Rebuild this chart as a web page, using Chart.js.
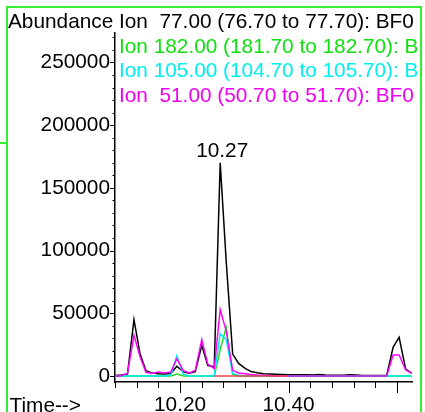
<!DOCTYPE html>
<html>
<head>
<meta charset="utf-8">
<script src="https://cdn.jsdelivr.net/npm/chart.js@4/dist/chart.umd.min.js"></script>
<style>
  html, body { margin: 0; padding: 0; background: #fff; }
  #wrap { position: relative; width: 425px; height: 412px; overflow: hidden;
          font-family: "Liberation Sans", Arial, sans-serif; font-size: 20.8px; line-height: 20px; }
  #chart { position: absolute; left: 0; top: 0; }
  .txt { position: absolute; white-space: pre; }
  #frame { position: absolute; left: 6px; top: 6px; width: 412px; height: 420px; border: 2px solid #33ee33; }
  #stub { position: absolute; left: 0; top: 142px; width: 7px; height: 2px; background: #33ee33; }
  #legend { position: absolute; left: 119px; top: 0; width: 301px; height: 110px; overflow: hidden; }
</style>
</head>
<body>
<div id="wrap">
  <canvas id="chart" width="425" height="412"></canvas>
  <div id="frame"></div>
  <div id="stub"></div>
  <div class="txt" style="left:8px; top:10.8px; color:#000;">Abundance</div>
  <div id="legend">
    <div class="txt" style="left:0; top:10.8px; color:#000;">Ion  77.00 (76.70 to 77.70): BF0</div>
    <div class="txt" style="left:0; top:35.5px; color:#10e010;">Ion 182.00 (181.70 to 182.70): BF0</div>
    <div class="txt" style="left:0; top:60.1px; color:#00eeee;">Ion 105.00 (104.70 to 105.70): BF0</div>
    <div class="txt" style="left:0; top:84.5px; color:#f000f0;">Ion  51.00 (50.70 to 51.70): BF0</div>
  </div>
  <div class="txt" style="left:9.5px; top:395.3px; color:#000;">Time--&gt;</div>
</div>
<script>
// retention times (min)
const times = [
  10.080, 10.092, 10.103, 10.115, 10.126, 10.137, 10.149, 10.160, 10.171, 10.183,
  10.194, 10.206, 10.217, 10.228, 10.240, 10.251, 10.263, 10.274, 10.285, 10.297,
  10.308, 10.320, 10.331, 10.342, 10.354, 10.365, 10.376, 10.388, 10.399, 10.411,
  10.422, 10.433, 10.445, 10.456, 10.468, 10.479, 10.490, 10.502, 10.513, 10.524,
  10.536, 10.547, 10.559, 10.570, 10.581, 10.593, 10.604, 10.616, 10.627
];

// abundance per ion
const ion77 = [
  300, 700, 1500, 45000, 18000, 4300, 2300, 1800, 1500, 2000,
  7800, 3400, 2100, 3400, 24500, 8500, 7200, 170000, 92000, 17500,
  10000, 6000, 3500, 2500, 1800, 1500, 1300, 1100, 1000, 1000,
  900, 900, 800, 1200, 700, 600, 500, 600, 1000, 800,
  400, 300, 300, 300, 500, 23000, 30800, 5500, 2200
];
const ion182 = [
  0, 0, 0, 0, 0, 0, 0, 0, 0, 0,
  1500, 0, 0, 0, 0, 0, 0, 21000, 38700, 1500,
  0, 0, 0, 0, 0, 0, 0, 0, 0, 0,
  0, 0, 0, 0, 0, 0, 0, 0, 0, 0,
  0, 0, 0, 0, 0, 0, 0, 0, 0
];
const ion105 = [
  0, 0, 0, 0, 0, 0, 0, 0, 0, 800,
  16000, 1500, 0, 0, 0, 0, 0, 33700, 29000, 2000,
  500, 0, 0, 0, 0, 0, 0, 0, 0, 0,
  0, 0, 0, 0, 0, 0, 0, 0, 0, 0,
  0, 0, 0, 0, 0, 0, 0, 0, 0
];
const ion51 = [
  0, 300, 2100, 32400, 15500, 3000, 2000, 3200, 2400, 3200,
  13800, 4300, 2400, 4500, 29000, 9500, 5800, 53000, 36000, 4500,
  2400, 1800, 1200, 800, 500, 300, 0, 0, 0, 0,
  0, 0, 0, 0, 0, 0, 0, 0, 0, 0,
  0, 0, 0, 0, 0, 16700, 16700, 4800, 2400
];
// other ions, only seen as flat baseline pieces
const ionRed = [
  null, null, null, null, null, null, null, null, null, null,
  null, null, null, null, null, null, 0, 0, 0, 0,
  0, 0, 0, 0, 0, 0, 0, 0, 0, null,
  null, null, null, null, null, null, null, null, null, null,
  null, null, null, null, null, null, null, null, null
];
const ionPurple = [
  0, 0, null, null, null, null, null, null, null, null,
  null, null, null, null, null, null, null, null, null, null,
  null, null, null, null, null, null, null, null, 0, 0,
  0, 0, 0, 0, 0, 0, 0, 0, 0, 0,
  0, 0, 0, 0, 0, null, null, null, null
];

const yTickValues = [0, 50000, 100000, 150000, 200000, 250000];
const yMinorTicks = [
  0, 10000, 20000, 30000, 40000, 50000, 60000, 70000, 80000, 90000,
  100000, 110000, 120000, 130000, 140000, 150000, 160000, 170000, 180000, 190000,
  200000, 210000, 220000, 230000, 240000, 250000, 260000, 270000
];
const xTickValues = [10.20, 10.40];
const xMajorMarks = [10.20, 10.40, 10.60];
const xMinorTicks = [10.08, 10.12, 10.16, 10.20, 10.24, 10.28, 10.32, 10.36, 10.40, 10.44, 10.48, 10.52, 10.56, 10.60];
const peakTime = 10.274;
const peakValue = 170000;
const peakText = '10.27';

const toPoints = (vals) => vals.map((v, i) => ({ x: times[i], y: v }));

const axisMarks = {
  id: 'axisMarks',
  afterDraw(chart) {
    const { ctx, chartArea, scales: { x, y } } = chart;
    ctx.save();
    ctx.strokeStyle = '#000';
    ctx.lineWidth = 1;
    yMinorTicks.forEach(v => {
      const py = Math.round(y.getPixelForValue(v)) + 0.5;
      const len = yTickValues.includes(v) ? 5 : 2.5;
      ctx.beginPath();
      ctx.moveTo(chartArea.left - len, py);
      ctx.lineTo(chartArea.left, py);
      ctx.stroke();
    });
    xMinorTicks.forEach(v => {
      const px = Math.round(x.getPixelForValue(v)) + 0.5;
      const len = xMajorMarks.some(m => Math.abs(m - v) < 1e-6) ? 11 : 6;
      ctx.beginPath();
      ctx.moveTo(px, chartArea.bottom);
      ctx.lineTo(px, chartArea.bottom + len);
      ctx.stroke();
    });
    // peak annotation
    ctx.fillStyle = '#000';
    ctx.font = '20.8px "Liberation Sans", Arial, sans-serif';
    ctx.textAlign = 'center';
    ctx.textBaseline = 'alphabetic';
    ctx.fillText(peakText, x.getPixelForValue(peakTime) + 2, y.getPixelForValue(peakValue) - 6);
    ctx.restore();
  }
};

const line = (label, vals, color, order) => ({
  label,
  data: toPoints(vals),
  borderColor: color,
  borderWidth: 1.5,
  pointRadius: 0,
  tension: 0,
  fill: false,
  spanGaps: false,
  order
});

new Chart(document.getElementById('chart'), {
  type: 'line',
  data: {
    datasets: [
      line('Ion 77.00', ion77, '#000000', 5),
      line('Ion 182.00', ion182, '#22dd22', 4),
      line('Ion 105.00', ion105, '#00eeee', 3),
      line('Ion 51.00', ion51, '#ff00ff', 2),
      line('red', ionRed, '#ee4444', 0),
      line('purple', ionPurple, '#a040d0', 1)
    ]
  },
  options: {
    responsive: false,
    animation: false,
    layout: { padding: { left: 0, right: 12.3, top: 33, bottom: 0 } },
    plugins: { legend: { display: false }, tooltip: { enabled: false } },
    scales: {
      x: {
        type: 'linear',
        min: 10.08,
        max: 10.629,
        afterFit: (scale) => { scale.height = 30; },
        afterBuildTicks: (scale) => { scale.ticks = xTickValues.map(v => ({ value: v })); },
        grid: { drawOnChartArea: false, drawTicks: false },
        border: { display: true, color: '#000', width: 1.5 },
        ticks: {
          color: '#000',
          padding: 11,
          maxRotation: 0,
          autoSkip: false,
          font: { family: 'Liberation Sans', size: 20.8 },
          callback: (v) => Number(v).toFixed(2)
        }
      },
      y: {
        type: 'linear',
        min: -4800,
        max: 273500,
        afterFit: (scale) => { scale.width = 115; },
        afterBuildTicks: (scale) => { scale.ticks = yTickValues.map(v => ({ value: v })); },
        grid: { drawOnChartArea: false, drawTicks: false },
        border: { display: true, color: '#000', width: 1.5 },
        ticks: {
          color: '#000',
          padding: 5,
          autoSkip: false,
          font: { family: 'Liberation Sans', size: 20.8 },
          callback: (v) => String(v)
        }
      }
    }
  },
  plugins: [axisMarks]
});
</script>
</body>
</html>
